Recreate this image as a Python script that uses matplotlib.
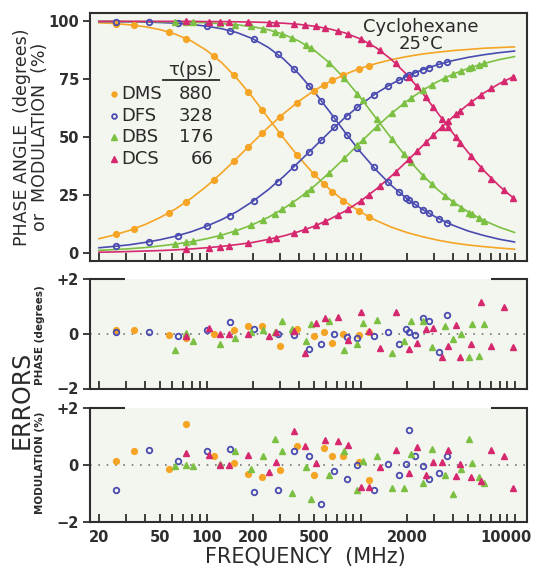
import matplotlib
matplotlib.use("Agg")
import matplotlib.pyplot as plt
import matplotlib.transforms as mtransforms
from matplotlib.ticker import FixedLocator, FixedFormatter, NullLocator

# ---- data ----
# frequencies of the measured points (MHz)
dms_freq = [26, 34, 57, 74, 111, 150, 186, 230, 300, 385, 500, 580, 655, 775, 970, 1130]
dfs_freq = [26, 42, 65, 100, 141, 203, 290, 370, 465, 555, 675, 820, 955, 1215, 1500,
            1770, 1970, 2060, 2250, 2540, 2780, 3240, 3650]
dbs_freq = [62, 74, 82, 122, 152, 194, 232, 278, 309, 359, 444, 478, 627, 785, 955, 1030,
            1270, 1600, 1910, 2120, 2540, 2910, 3540, 3990, 4510, 5080, 5310, 5900, 6370]
dcs_freq = [73, 103, 122, 139, 185, 254, 283, 370, 437, 515, 590, 718, 835, 1000, 1130,
            1330, 1690, 2060, 2320, 2660, 2960, 3380, 3700, 4180, 4440, 5240, 6080, 7080,
            8480, 9840]

# measured phase angle (degrees) and modulation (%)
dms_phase = [8.2, 10.7, 17.5, 22.3, 31.5, 39.7, 45.8, 51.8, 58.9, 64.8, 70.1, 72.7, 74.6,
             76.9, 79.4, 80.9]
dms_mod = [99.0, 98.3, 95.4, 92.6, 85.2, 77.0, 69.7, 61.8, 51.6, 42.5, 34.0, 29.8, 26.6,
           22.7, 18.3, 15.8]
dfs_phase = [3.1, 5.0, 7.6, 11.7, 16.2, 22.7, 30.9, 37.3, 43.8, 48.8, 54.3, 59.4, 63.1,
             68.2, 72.1, 74.7, 76.2, 76.8, 77.8, 79.2, 80.1, 81.5, 82.4]
dfs_mod = [99.9, 99.6, 99.1, 97.9, 96.0, 92.3, 85.8, 79.5, 72.2, 65.8, 58.4, 50.9, 45.3,
           37.1, 30.8, 26.4, 23.9, 22.9, 21.1, 18.8, 17.2, 14.8, 13.2]
dbs_phase = [3.9, 4.7, 5.2, 7.7, 9.5, 12.1, 14.4, 17.1, 18.9, 21.7, 26.2, 27.9, 34.7, 41.0,
             46.6, 48.7, 54.6, 60.5, 64.7, 66.9, 70.4, 72.7, 75.7, 77.2, 78.7, 79.9, 80.3,
             81.3, 81.9]
dbs_mod = [99.8, 99.7, 99.6, 99.1, 98.6, 97.8, 96.9, 95.6, 94.6, 92.9, 89.8, 88.4, 82.2,
           75.5, 68.8, 66.0, 58.0, 49.2, 42.8, 39.2, 33.5, 29.7, 24.8, 22.1, 19.7, 17.5,
           16.8, 15.2, 14.1]
dcs_phase = [1.7, 2.5, 2.9, 3.3, 4.4, 6.0, 6.7, 8.7, 10.3, 12.1, 13.8, 16.6, 19.1, 22.5,
             25.1, 28.9, 35.0, 40.5, 43.9, 47.8, 50.8, 54.5, 56.9, 60.0, 61.5, 65.3, 68.4,
             71.2, 74.1, 76.2]
dcs_mod = [100.0, 99.9, 99.9, 99.8, 99.7, 99.5, 99.3, 98.8, 98.4, 97.8, 97.1, 95.8, 94.5,
           92.4, 90.6, 87.6, 81.9, 76.0, 72.1, 67.2, 63.1, 58.1, 54.6, 50.0, 47.7, 41.8,
           36.9, 32.2, 27.4, 23.8]

# fitted curves
fit_freq = [20, 25.1, 31.6, 39.8, 50.1, 63.1, 79.4, 100, 125.9, 158.5, 199.5, 251.2, 316.2,
            398.1, 501.2, 631, 794.3, 1000, 1259, 1585, 1995, 2512, 3162, 3981, 5012, 6310,
            7943, 10000]
dms_fit_phase = [6.3, 7.9, 9.9, 12.4, 15.5, 19.2, 23.7, 28.9, 34.8, 41.2, 47.8, 54.3, 60.2,
                 65.6, 70.2, 74.0, 77.2, 79.8, 81.8, 83.5, 84.8, 85.9, 86.7, 87.4, 87.9,
                 88.4, 88.7, 89.0]
dms_fit_mod = [99.4, 99.1, 98.5, 97.7, 96.4, 94.4, 91.6, 87.5, 82.1, 75.2, 67.2, 58.4, 49.7,
               41.4, 33.9, 27.6, 22.2, 17.8, 14.2, 11.3, 9.0, 7.2, 5.7, 4.5, 3.6, 2.9, 2.3,
               1.8]
dfs_fit_phase = [2.4, 3.0, 3.7, 4.7, 5.9, 7.4, 9.3, 11.7, 14.6, 18.1, 22.4, 27.4, 33.1, 39.4,
                 45.9, 52.4, 58.6, 64.1, 68.9, 73.0, 76.3, 79.1, 81.3, 83.1, 84.5, 85.6,
                 86.5, 87.2]
dfs_fit_mod = [99.9, 99.9, 99.8, 99.7, 99.5, 99.2, 98.7, 97.9, 96.8, 95.1, 92.5, 88.8, 83.8,
               77.3, 69.6, 61.0, 52.1, 43.7, 36.0, 29.3, 23.6, 19.0, 15.2, 12.1, 9.6, 7.7,
               6.1, 4.9]
dbs_fit_phase = [1.3, 1.6, 2.0, 2.5, 3.2, 4.0, 5.0, 6.3, 7.9, 9.9, 12.4, 15.5, 19.3, 23.8,
                 29.0, 34.9, 41.3, 47.9, 54.3, 60.3, 65.6, 70.2, 74.0, 77.2, 79.8, 81.8,
                 83.5, 84.8]
dbs_fit_mod = [100.0, 100.0, 99.9, 99.9, 99.8, 99.8, 99.6, 99.4, 99.0, 98.5, 97.7, 96.4,
               94.4, 91.5, 87.5, 82.0, 75.1, 67.1, 58.3, 49.6, 41.3, 33.9, 27.5, 22.2, 17.8,
               14.2, 11.3, 9.0]
dcs_fit_phase = [0.5, 0.6, 0.8, 1.0, 1.2, 1.5, 1.9, 2.4, 3.0, 3.8, 4.7, 6.0, 7.5, 9.4, 11.7,
                 14.7, 18.2, 22.5, 27.6, 33.3, 39.6, 46.2, 52.7, 58.8, 64.3, 69.1, 73.1, 76.4]
dcs_fit_mod = [100.0, 100.0, 100.0, 100.0, 100.0, 100.0, 100.0, 99.9, 99.9, 99.8, 99.7,
               99.5, 99.2, 98.7, 97.9, 96.7, 95.0, 92.4, 88.7, 83.6, 77.1, 69.3, 60.6, 51.8,
               43.4, 35.7, 29.1, 23.4]

# residuals: phase (degrees) and modulation (%)
dms_phase_err = [0.15, 0.12, -0.05, -0.16, 0.0, 0.12, 0.29, 0.29, -0.46, 0.17, -0.1, 0.08,
                 -0.34, 0.0, -0.04, 0.08]
dms_mod_err = [0.15, 0.48, -0.13, 1.44, 0.32, 0.06, -0.3, -0.44, -0.18, 0.68, -0.36, 0.6,
               0.3, 0.3, 0.12, -0.54]
dfs_phase_err = [0.05, 0.05, -0.1, 0.15, 0.44, 0.18, 0.0, -0.05, -0.56, -0.36, 0.0, -0.12,
                 -0.16, -0.07, 0.08, -0.37, 0.17, 0.05, -0.04, 0.57, 0.46, -0.68, 0.69]
dfs_mod_err = [-0.87, 0.54, 0.14, 0.48, 0.56, -0.95, -0.87, 0.51, 0.32, -1.37, -0.2, -0.51,
               0.0, -0.87, 0.04, -0.36, 0.04, 1.22, 0.3, -0.04, -0.48, -0.27, 0.3]
dbs_phase_err = [-0.58, 0.03, -0.28, -0.37, -0.15, 0.08, 0.15, 0.05, 0.45, 0.17, -0.28, 0.35,
                 0.48, -0.58, -0.38, 0.41, 0.51, -0.7, -0.28, 0.48, 0.45, -0.5, 0.27, -0.19,
                 0.0, -0.85, 0.36, -0.82, 0.36]
dbs_mod_err = [-0.05, 0.0, -0.04, 0.05, 0.48, -0.15, 0.3, 0.92, 0.48, -0.99, -0.08, -1.19,
               -0.36, 0.51, -0.87, 0.15, 0.32, -0.81, -0.81, 0.38, -0.63, 0.56, -0.36, -1.01,
               -0.15, 0.92, 0.08, -0.44, -0.63]
dcs_phase_err = [-0.1, 0.2, 0.0, 0.0, 0.0, -0.1, 0.08, 0.1, -0.7, 0.38, 0.57, 0.63, -0.24,
                 0.81, 0.1, -0.52, 0.81, -0.56, -0.32, 0.17, 0.2, -0.85, -0.46, 0.33, -0.86,
                 -0.36, 1.17, -0.44, 0.99, -0.5]
dcs_mod_err = [0.44, 0.36, 0.0, 0.0, 0.36, -0.24, 0.1, 1.19, 0.68, 0.08, 0.89, 0.83, 0.71,
               -0.77, -0.77, -0.06, 0.54, -0.27, 0.65, -0.36, 0.12, 0.12, 0.54, -0.39, 0.04,
               -0.44, -0.56, 0.54, 0.32, -0.8]

names = ["DMS", "DFS", "DBS", "DCS"]
lifetimes = ["880", "328", "176", "66"]

tick_freqs = [20, 30, 40, 50, 60, 70, 80, 90, 100, 200, 300, 400, 500, 600, 700, 800, 900,
              1000, 2000, 3000, 4000, 5000, 6000, 7000, 8000, 9000, 10000]
labelled = {20: "20", 50: "50", 100: "100", 200: "200", 500: "500", 2000: "2000",
            10000: "10000"}

# ---- styles ----
colors = ["#f5a425", "#4a4bb0", "#7cc043", "#d6286e"]
spine_col = "#2e2e2e"
text_col = "#2a2a2a"
face = "#f3f6ee"
styles = [
    dict(marker="o", ms=4.2, mfc=colors[0], mec=colors[0]),
    dict(marker="o", ms=4.0, mfc="none", mec=colors[1], mew=1.3),
    dict(marker="^", ms=4.3, mfc=colors[2], mec=colors[2]),
    dict(marker="^", ms=4.3, mfc=colors[3], mec=colors[3]),
]

series = [
    (dms_freq, dms_phase, dms_mod, dms_phase_err, dms_mod_err, dms_fit_phase, dms_fit_mod),
    (dfs_freq, dfs_phase, dfs_mod, dfs_phase_err, dfs_mod_err, dfs_fit_phase, dfs_fit_mod),
    (dbs_freq, dbs_phase, dbs_mod, dbs_phase_err, dbs_mod_err, dbs_fit_phase, dbs_fit_mod),
    (dcs_freq, dcs_phase, dcs_mod, dcs_phase_err, dcs_mod_err, dcs_fit_phase, dcs_fit_mod),
]

W, H = 539, 575
fig = plt.figure(figsize=(W / 100, H / 100), dpi=100)
fig.patch.set_facecolor("white")


def fx(px):
    return px / W


def fy(py):
    return 1 - py / H


left, right = 90, 527
ax = fig.add_axes([fx(left), fy(261), (right - left) / W, 248 / H])
ax_ph = fig.add_axes([fx(left), fy(388.5), (right - left) / W, 109.5 / H])
ax_mod = fig.add_axes([fx(left), fy(521.7), (right - left) / W, 113.4 / H])

for a in (ax, ax_ph, ax_mod):
    a.set_xscale("log")
    a.set_xlim(17.5, 12050)
    a.set_facecolor(face)
    a.xaxis.set_major_locator(FixedLocator(tick_freqs))
    a.xaxis.set_minor_locator(NullLocator())
    a.yaxis.set_minor_locator(NullLocator())
    a.tick_params(axis="x", direction="in", length=6, width=1.3, color=spine_col,
                  top=False, bottom=True)
    a.tick_params(axis="y", direction="out", length=5, width=1.3, color=spine_col, pad=3)
    for s in a.spines.values():
        s.set_color(spine_col)
        s.set_linewidth(1.5)

# main panel
for (f, ph, md, pe, me, fph, fmd), st, c in zip(series, styles, colors):
    ax.plot(fit_freq, fph, color=c, lw=1.2, zorder=2)
    ax.plot(fit_freq, fmd, color=c, lw=1.2, zorder=2)
    ax.plot(f, ph, ls="none", zorder=3, **st)
    ax.plot(f, md, ls="none", zorder=3, **st)

ax.set_ylim(-3.3, 103.6)
ax.set_yticks([0, 25, 50, 75, 100])
ax.set_yticklabels(["0", "25", "50", "75", "100"], fontsize=10.5, fontweight="bold",
                   color=spine_col)
ax.xaxis.set_major_formatter(FixedFormatter([""] * len(tick_freqs)))

fig.text(fx(22), fy(137), "PHASE ANGLE  (degrees)", rotation=90, ha="center",
         va="center", fontsize=12.5, color=text_col)
fig.text(fx(40), fy(137), "or  MODULATION  (%)", rotation=90, ha="center",
         va="center", fontsize=12.5, color=text_col)

fig.text(fx(421), fy(18), "Cyclohexane\n25°C", ha="center", va="top", fontsize=13,
         color=text_col, linespacing=0.95)

# legend block
fig.text(fx(191), fy(70), "τ(ps)", ha="center", va="center", fontsize=13, color=text_col)
fig.add_artist(plt.Line2D([fx(163), fx(219)], [fy(80), fy(80)], color=text_col, lw=1.3))
for i, (n, t, st) in enumerate(zip(names, lifetimes, styles)):
    yy = fy(94 + i * 21.7)
    kw = dict(st)
    kw["ms"] = kw["ms"] * 0.85
    fig.add_artist(plt.Line2D([fx(114)], [yy], ls="none", **kw))
    fig.text(fx(121), yy, n, ha="left", va="center", fontsize=13, color=text_col)
    fig.text(fx(213), yy, t, ha="right", va="center", fontsize=13, color=text_col)

# error panels
for a, idx in ((ax_ph, 3), (ax_mod, 4)):
    for s, st in zip(series, styles):
        a.plot(s[0], s[idx], ls="none", zorder=3, **st)
    a.set_ylim(-2, 2)
    a.set_yticks([-2, 0, 2])
    a.set_yticklabels(["\u22122", "0", "+2"], fontsize=10.5, fontweight="bold",
                      color=spine_col)
    a.axhline(0, color="#777777", lw=1.2, ls=(0, (1, 4)), zorder=1)
    a.spines["top"].set_visible(False)
    a.plot([0, 0.08], [1, 1], transform=a.transAxes, color=spine_col, lw=1.5,
           clip_on=False, solid_capstyle="butt")
    a.plot([0.917, 1.0], [1, 1], transform=a.transAxes, color=spine_col, lw=1.5,
           clip_on=False, solid_capstyle="butt")

ax_ph.xaxis.set_major_formatter(FixedFormatter([""] * len(tick_freqs)))
ax_mod.xaxis.set_major_formatter(FixedFormatter([labelled.get(t, "") for t in tick_freqs]))
ax_mod.tick_params(axis="x", pad=6)
shift = mtransforms.ScaledTranslation(-9 / 100, 0, fig.dpi_scale_trans)
for t, lab in zip(tick_freqs, ax_mod.get_xticklabels()):
    lab.set_fontsize(10.5)
    lab.set_fontweight("bold")
    lab.set_color(spine_col)
    if t == 10000:
        lab.set_transform(lab.get_transform() + shift)

fig.text(fx(40), fy(335), "PHASE (degrees)", rotation=90, ha="center", va="center",
         fontsize=7.5, fontweight="bold", color=text_col)
fig.text(fx(40), fy(463), "MODULATION (%)", rotation=90, ha="center", va="center",
         fontsize=7.5, fontweight="bold", color=text_col)
fig.text(fx(22), fy(400), "ERRORS", rotation=90, ha="center", va="center", fontsize=17,
         color=text_col)
fig.text(fx(305), fy(557), "FREQUENCY  (MHz)", ha="center", va="center", fontsize=15,
         color=text_col)

fig.savefig("out.png", dpi=100, facecolor="white")
